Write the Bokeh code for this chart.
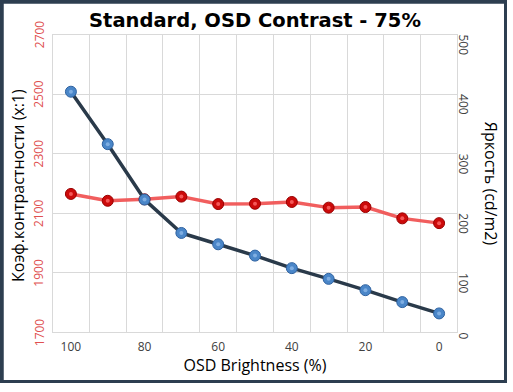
from bokeh.plotting import figure
from bokeh.layouts import column
from bokeh.models import Range1d, LinearAxis, FixedTicker
from bokeh.embed import file_html
from bokeh.resources import INLINE

# ---- data ----
osd_brightness = [100, 90, 80, 70, 60, 50, 40, 30, 20, 10, 0]
contrast = [2165, 2142, 2147, 2156, 2131, 2132, 2138, 2119, 2121, 2083, 2067]
luminance = [404, 316, 223, 167, 148, 129, 108, 90, 71, 51, 32]
x_tick_labels = [100, 80, 60, 40, 20, 0]
left_ticks = [1700, 1900, 2100, 2300, 2500, 2700]
right_ticks = [0, 100, 200, 300, 400, 500]
category_edges = [105, 95, 85, 75, 65, 55, 45, 35, 25, 15, 5, -5]

FRAME = "#2d3e50"
RED_LINE = "#f05555"
RED_MARK = "#cc0a0a"
BLUE_LINE = "#2a3a4a"
BLUE_MARK = "#4a86c8"
GRID = "#d9d9d9"
LABEL_FONT = "Open Sans"

p = figure(frame_width=405, frame_height=298, output_backend="svg", toolbar_location=None,
           x_range=Range1d(105, -5), y_range=Range1d(1700, 2700),
           min_border_left=47, min_border_right=46, min_border_top=31, min_border_bottom=48)
p.background_fill_color = "white"
p.border_fill_color = "white"
p.outline_line_color = GRID

p.title.text = "Standard, OSD Contrast - 75%"
p.title.text_font = "DejaVu Sans"
p.title.text_font_size = "19.5px"
p.title.text_font_style = "bold"
p.title.align = "center"
p.title.text_color = "black"
p.title.offset = 0
p.title.standoff = 5

p.extra_y_ranges = {"lum": Range1d(0, 500)}


def style_axis(ax):
    ax.axis_label_text_font = LABEL_FONT
    ax.axis_label_text_font_size = "16px"
    ax.axis_label_text_font_style = "normal"
    ax.axis_label_text_color = "black"
    ax.major_label_text_font = LABEL_FONT
    ax.major_label_text_font_size = "12px"
    ax.axis_line_color = None
    ax.major_tick_line_color = None
    ax.minor_tick_line_color = None
    ax.major_tick_out = 0
    ax.major_tick_in = 0
    ax.minor_tick_out = 0
    ax.minor_tick_in = 0


# x axis
xa = p.xaxis[0]
style_axis(xa)
xa.ticker = FixedTicker(ticks=x_tick_labels)
xa.axis_label = "OSD Brightness (%)"
xa.axis_label_standoff = 0
xa.major_label_text_color = "#404040"
xa.major_label_standoff = 9

# left axis
ya = p.yaxis[0]
style_axis(ya)
ya.ticker = FixedTicker(ticks=left_ticks)
ya.axis_label = "Коэф.контрастности  (x:1)"
ya.axis_label_standoff = 3
ya.major_label_orientation = "vertical"
ya.major_label_text_color = "#e05050"
ya.major_label_standoff = 9

# right axis
ra = LinearAxis(y_range_name="lum", ticker=FixedTicker(ticks=right_ticks))
style_axis(ra)
ra.axis_label = "Яркость (cd/m2)"
ra.axis_label_standoff = 4
ra.major_label_orientation = -1.5708
ra.major_label_text_color = "#404040"
ra.major_label_standoff = 6
p.add_layout(ra, "right")

# grid
p.xgrid[0].ticker = FixedTicker(ticks=category_edges)
p.xgrid[0].grid_line_color = GRID
p.ygrid[0].grid_line_color = GRID

# contrast series (left axis)
p.line(osd_brightness, contrast, line_color=RED_LINE, line_width=3.5, line_alpha=0.95)
p.scatter(osd_brightness, contrast, size=11, fill_color=RED_MARK, line_color="#990000", line_width=1)
p.scatter(osd_brightness, contrast, size=4, fill_color="#ff6a6a", line_color=None, fill_alpha=0.8)

# luminance series (right axis)
p.line(osd_brightness, luminance, y_range_name="lum", line_color=BLUE_LINE, line_width=3.5)
p.scatter(osd_brightness, luminance, y_range_name="lum", size=11, fill_color=BLUE_MARK,
          line_color="#2f62a0", line_width=1)
p.scatter(osd_brightness, luminance, y_range_name="lum", size=4, fill_color="#8cb8e8",
          line_color=None, fill_alpha=0.8)

page = column(p, styles={"background-color": FRAME, "padding": "3px"})

open("out.html", "w").write(file_html(page, INLINE))
